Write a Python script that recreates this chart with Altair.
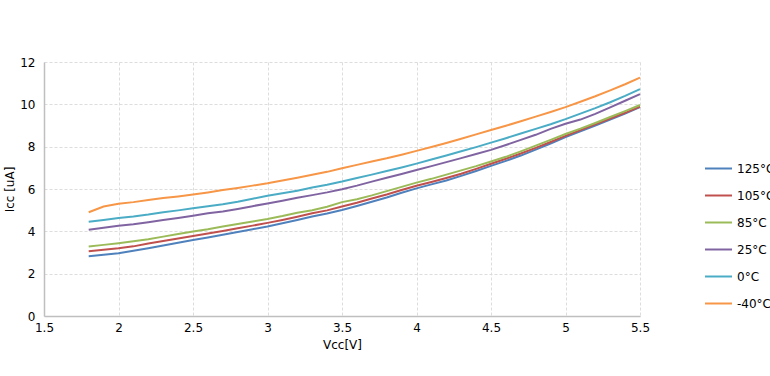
import altair as alt
import pandas as pd

vcc = [1.8, 1.9, 2.0, 2.1, 2.2, 2.3, 2.4, 2.5, 2.6, 2.7, 2.8, 2.9, 3.0, 3.1, 3.2, 3.3, 3.4, 3.5, 3.6, 3.7,
       3.8, 3.9, 4.0, 4.1, 4.2, 4.3, 4.4, 4.5, 4.6, 4.7, 4.8, 4.9, 5.0, 5.1, 5.2, 5.3, 5.4, 5.5]

icc_125 = [2.82, 2.89, 2.96, 3.08, 3.20, 3.33, 3.46, 3.59, 3.71, 3.84, 3.97, 4.10, 4.23, 4.38, 4.54, 4.70, 4.84, 5.01, 5.20, 5.40,
           5.60, 5.82, 6.03, 6.22, 6.40, 6.62, 6.85, 7.09, 7.33, 7.58, 7.86, 8.15, 8.45, 8.73, 9.00, 9.28, 9.56, 9.87]
icc_105 = [3.06, 3.13, 3.20, 3.29, 3.43, 3.54, 3.66, 3.78, 3.90, 4.02, 4.15, 4.27, 4.40, 4.54, 4.69, 4.85, 4.99, 5.17, 5.35, 5.55,
           5.74, 5.95, 6.15, 6.33, 6.52, 6.72, 6.95, 7.19, 7.43, 7.68, 7.94, 8.22, 8.51, 8.78, 9.06, 9.33, 9.60, 9.89]
icc_85 = [3.28, 3.36, 3.44, 3.53, 3.63, 3.75, 3.87, 3.99, 4.10, 4.23, 4.35, 4.46, 4.58, 4.72, 4.88, 5.00, 5.16, 5.38, 5.52, 5.70,
          5.90, 6.10, 6.30, 6.48, 6.68, 6.88, 7.08, 7.30, 7.52, 7.78, 8.05, 8.32, 8.60, 8.85, 9.12, 9.40, 9.68, 9.97]
icc_25 = [4.07, 4.17, 4.26, 4.33, 4.43, 4.53, 4.63, 4.74, 4.85, 4.94, 5.06, 5.19, 5.32, 5.45, 5.59, 5.71, 5.84, 5.99, 6.16, 6.35,
          6.53, 6.71, 6.90, 7.08, 7.27, 7.46, 7.65, 7.85, 8.08, 8.32, 8.56, 8.84, 9.08, 9.28, 9.55, 9.86, 10.17, 10.48]
icc_0 = [4.45, 4.54, 4.63, 4.70, 4.79, 4.90, 4.99, 5.09, 5.19, 5.28, 5.40, 5.54, 5.68, 5.80, 5.92, 6.07, 6.20, 6.35, 6.52, 6.68,
         6.85, 7.02, 7.20, 7.39, 7.58, 7.78, 7.98, 8.19, 8.40, 8.62, 8.84, 9.06, 9.30, 9.56, 9.82, 10.10, 10.40, 10.72]
icc_m40 = [4.90, 5.17, 5.30, 5.38, 5.48, 5.57, 5.65, 5.74, 5.84, 5.95, 6.05, 6.16, 6.27, 6.40, 6.53, 6.67, 6.81, 6.98, 7.14, 7.30,
           7.45, 7.62, 7.80, 7.98, 8.17, 8.37, 8.58, 8.79, 8.99, 9.20, 9.42, 9.64, 9.87, 10.12, 10.38, 10.66, 10.95, 11.26]

series_names = ["125°C", "105°C", "85°C", "25°C", "0°C", "-40°C"]
series_values = [icc_125, icc_105, icc_85, icc_25, icc_0, icc_m40]
series_colors = ["#4F81BD", "#C0504D", "#9BBB59", "#8064A2", "#4BACC6", "#F79646"]

rows = []
for name, vals in zip(series_names, series_values):
    for x, y in zip(vcc, vals):
        rows.append({"Vcc": x, "Icc": y, "Temp": name})
df = pd.DataFrame(rows)

FONT = "DejaVu Sans"

chart = alt.Chart(df).mark_line(strokeWidth=2).encode(
    x=alt.X("Vcc:Q", title="Vcc[V]",
            scale=alt.Scale(domain=[1.5, 5.5], nice=False, zero=False),
            axis=alt.Axis(values=[1.5, 2, 2.5, 3, 3.5, 4, 4.5, 5, 5.5], format="~g",
                          ticks=False, labelFlush=False, labelPadding=6, titlePadding=6)),
    y=alt.Y("Icc:Q", title="Icc [uA]",
            scale=alt.Scale(domain=[0, 12], nice=False),
            axis=alt.Axis(values=[0, 2, 4, 6, 8, 10, 12], ticks=False, labelFlush=False,
                          labelPadding=9, titlePadding=3)),
    color=alt.Color("Temp:N", sort=series_names,
                    scale=alt.Scale(domain=series_names, range=series_colors),
                    legend=alt.Legend(title=None, orient="none", legendX=660, legendY=92,
                                      symbolType="stroke", symbolSize=729, symbolStrokeWidth=2,
                                      rowPadding=6, labelOffset=4, labelFontSize=12,
                                      labelFont=FONT, labelColor="#000000")),
    detail="Temp:N",
).properties(
    width=596, height=254,
    padding={"left": 44, "top": 62, "right": 130, "bottom": 60},
    autosize=alt.AutoSizeParams(type="none"),
).configure_view(
    stroke=None
).configure_axis(
    labelFont=FONT, titleFont=FONT, labelFontSize=12, titleFontSize=12,
    labelColor="#000000", titleColor="#000000", titleFontWeight="normal",
    domainColor="#BFBFBF", domainWidth=1.5,
    gridColor="#DDDDDD", gridDash=[3, 2], gridWidth=1,
)

chart.save("out.html", embed_options={"renderer": "svg", "actions": False})
